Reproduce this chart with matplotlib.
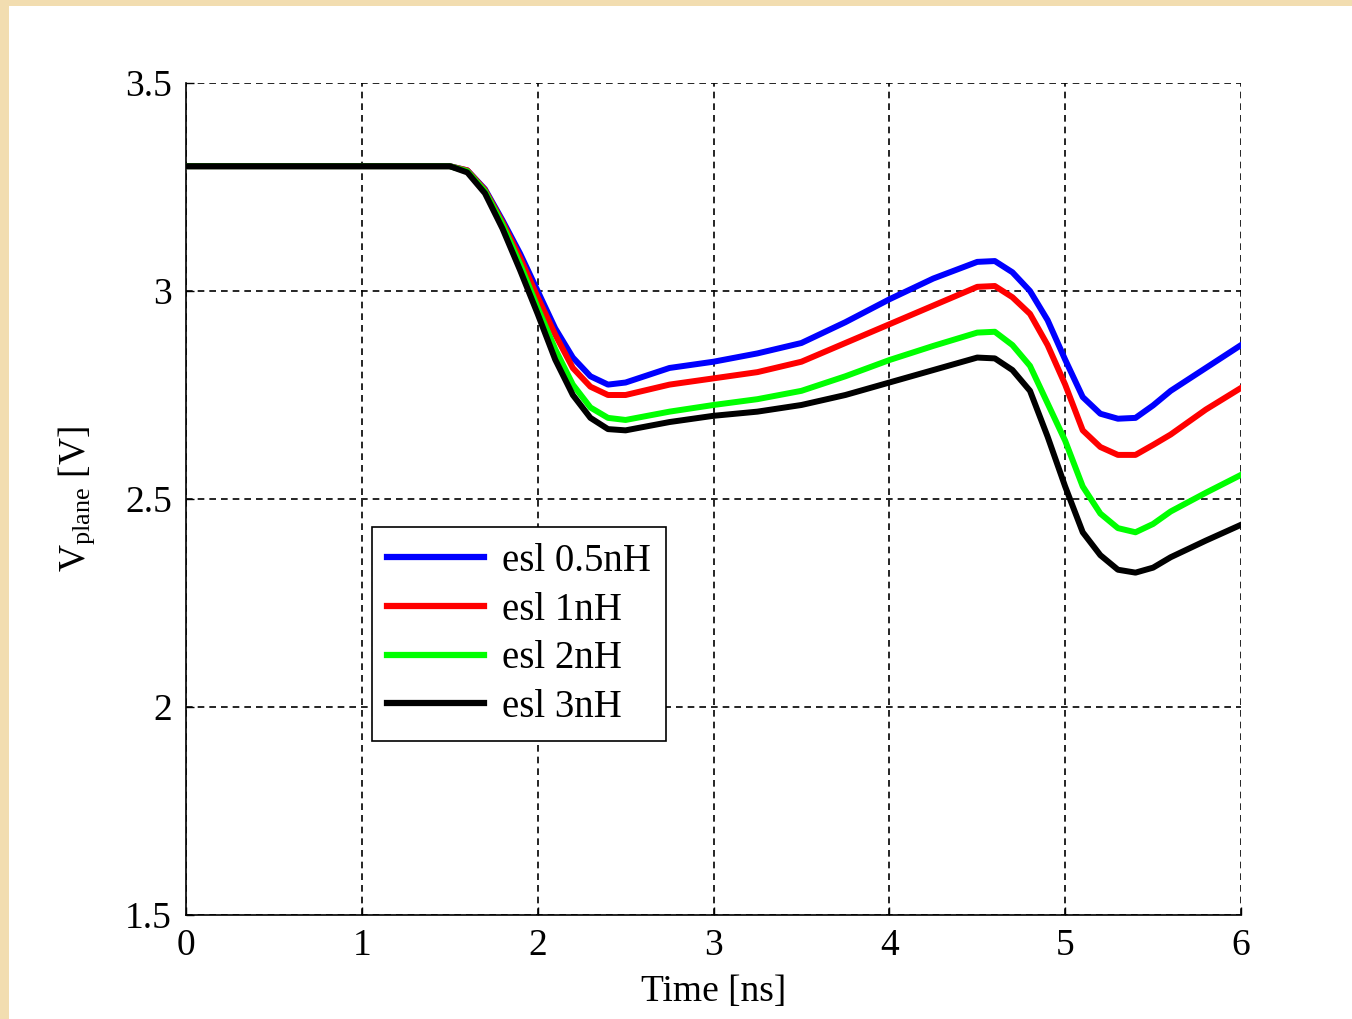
import matplotlib

matplotlib.use("Agg")

import matplotlib.pyplot as plt
from matplotlib.patches import Rectangle

plt.rcParams["font.family"] = ["Liberation Serif", "DejaVu Serif"]
plt.rcParams["mathtext.fontset"] = "custom"
plt.rcParams["mathtext.rm"] = "Liberation Serif"
plt.rcParams["mathtext.it"] = "Liberation Serif:italic"

# time axis [ns]
time_ns = [
    0.0, 1.5, 1.6, 1.7, 1.8, 1.9, 2.0, 2.1, 2.2, 2.3, 2.4, 2.5,
    2.75, 3.0, 3.25, 3.5, 3.75, 4.0, 4.25, 4.5,
    4.6, 4.7, 4.8, 4.9, 5.0, 5.1, 5.2, 5.3, 5.4, 5.5, 5.6, 5.8, 6.0,
]

# plane voltage [V] for each ESL value
v_esl_05 = [
    3.30, 3.30, 3.29, 3.245, 3.17, 3.09, 3.00, 2.91, 2.84, 2.795, 2.775, 2.78,
    2.815, 2.83, 2.85, 2.875, 2.925, 2.98, 3.03, 3.07,
    3.072, 3.045, 3.00, 2.93, 2.835, 2.745, 2.705, 2.693, 2.695, 2.725, 2.76, 2.815, 2.87,
]
v_esl_1 = [
    3.30, 3.30, 3.29, 3.243, 3.165, 3.08, 2.985, 2.895, 2.815, 2.77, 2.75, 2.75,
    2.775, 2.79, 2.805, 2.83, 2.875, 2.92, 2.965, 3.01,
    3.012, 2.985, 2.945, 2.87, 2.775, 2.665, 2.625, 2.606, 2.606, 2.63, 2.655, 2.715, 2.767,
]
v_esl_2 = [
    3.30, 3.30, 3.288, 3.24, 3.16, 3.065, 2.96, 2.86, 2.775, 2.72, 2.695, 2.69,
    2.71, 2.726, 2.74, 2.76, 2.795, 2.834, 2.868, 2.90,
    2.902, 2.87, 2.82, 2.73, 2.64, 2.53, 2.465, 2.43, 2.42, 2.44, 2.47, 2.515, 2.558,
]
v_esl_3 = [
    3.30, 3.30, 3.285, 3.235, 3.15, 3.05, 2.945, 2.835, 2.75, 2.695, 2.668, 2.665,
    2.685, 2.70, 2.71, 2.726, 2.75, 2.78, 2.81, 2.84,
    2.838, 2.81, 2.76, 2.65, 2.53, 2.42, 2.365, 2.33, 2.323, 2.335, 2.36, 2.40, 2.438,
]

series_labels = ["esl 0.5nH", "esl 1nH", "esl 2nH", "esl 3nH"]
series_colors = ["#0000ff", "#ff0000", "#00ff00", "#000000"]

x_ticks = [0, 1, 2, 3, 4, 5, 6]
y_ticks = [1.5, 2.0, 2.5, 3.0, 3.5]
y_tick_labels = ["1.5", "2", "2.5", "3", "3.5"]


def main() -> None:
    figure = plt.figure(figsize=(13.52, 10.19), dpi=100)
    figure.patch.set_facecolor("#f2ddb0")

    figure.add_artist(
        Rectangle(
            (9 / 1352, 0),
            1.0,
            1 - 6 / 1019,
            transform=figure.transFigure,
            facecolor="white",
            edgecolor="none",
            zorder=-10,
        )
    )

    axis = figure.add_axes([186 / 1352, 104 / 1019, 1055 / 1352, 832 / 1019])
    axis.set_facecolor("white")

    for values, label, color in zip(
        [v_esl_05, v_esl_1, v_esl_2, v_esl_3],
        series_labels,
        series_colors,
    ):
        axis.plot(time_ns, values, color=color, linewidth=4.3, label=label, zorder=3)

    axis.set_xlim(0, 6)
    axis.set_ylim(1.5, 3.5)

    axis.set_xticks(x_ticks)
    axis.set_yticks(y_ticks)
    axis.set_yticklabels(y_tick_labels)

    axis.tick_params(
        direction="in",
        length=6,
        width=1,
        labelsize=27,
        pad=10,
    )

    axis.spines["top"].set_visible(False)
    axis.spines["right"].set_visible(False)
    axis.spines["left"].set_linewidth(1.2)
    axis.spines["bottom"].set_linewidth(1.2)

    axis.grid(
        True,
        color="black",
        linestyle=(0, (4, 3)),
        linewidth=1.2,
    )

    axis.set_xlabel("Time [ns]", fontsize=27, labelpad=8)
    axis.set_ylabel(r"V$_{\mathrm{plane}}$ [V]", fontsize=27, labelpad=20)

    legend = axis.legend(
        loc="upper left",
        bbox_to_anchor=(0.176, 0.466),
        borderaxespad=0,
        fontsize=28,
        handlelength=2.5,
        handletextpad=0.45,
        labelspacing=0.3,
        borderpad=0.4,
        fancybox=False,
        framealpha=1,
        edgecolor="black",
    )
    legend.get_frame().set_linewidth(1.2)
    for line in legend.get_lines():
        line.set_linewidth(4.5)

    figure.savefig("out.png", dpi=100, facecolor=figure.get_facecolor())
    plt.close(figure)


if __name__ == "__main__":
    main()
